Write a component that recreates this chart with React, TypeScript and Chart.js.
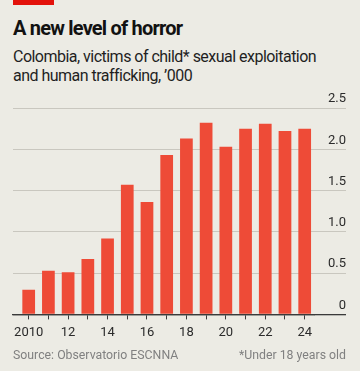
import React, { useEffect, useRef } from "react";
import { Chart, registerables } from "chart.js";

Chart.register(...registerables);

const years = [2010, 2011, 2012, 2013, 2014, 2015, 2016, 2017, 2018, 2019, 2020, 2021, 2022, 2023, 2024];
const victims = [0.3, 0.53, 0.51, 0.67, 0.92, 1.57, 1.36, 1.93, 2.13, 2.32, 2.03, 2.25, 2.31, 2.22, 2.25];
const xTickYears = [2010, 2012, 2014, 2016, 2018, 2020, 2022, 2024];
const xTickLabels = ["2010", "12", "14", "16", "18", "20", "22", "24"];
const yTickLabels = ["0", "0.5", "1.0", "1.5", "2.0", "2.5"];

const BG = "#ecebe4";
const BAR = "#ee4b37";
const GRID = "#c9c7bf";
const AXIS = "#3a3a3a";
const FONT = "Roboto, 'Noto Sans', sans-serif";

export default function App() {
  const ref = useRef<HTMLCanvasElement | null>(null);

  useEffect(() => {
    document.body.style.margin = "0";
    const canvas = ref.current;
    if (!canvas) return;
    const chart = new Chart(canvas, {
      type: "bar",
      data: {
        datasets: [
          {
            data: years.map((y, i) => ({ x: y, y: victims[i] })),
            backgroundColor: BAR,
            borderWidth: 0,
            categoryPercentage: 1,
            barPercentage: 0.645,
          },
        ],
      },
      options: {
        animation: false,
        responsive: false,
        maintainAspectRatio: false,
        layout: { padding: { left: 13, right: 14, top: 18, bottom: 9 } },
        plugins: { legend: { display: false }, tooltip: { enabled: false }, title: { display: false } },
        scales: {
          x: {
            type: "linear",
            offset: false,
            min: 2009.204,
            max: 2024.472,
            afterFit: (scale: any) => {
              scale.paddingLeft = 0;
              scale.paddingRight = 0;
              scale.height = 26.6;
            },
            grid: {
              display: true,
              offset: false,
              drawOnChartArea: false,
              drawTicks: true,
              tickLength: 5,
              tickColor: AXIS,
              tickWidth: 1,
            },
            border: { display: true, color: AXIS, width: 1.3 },
            ticks: {
              stepSize: 1,
              includeBounds: false,
              autoSkip: false,
              maxRotation: 0,
              padding: 6,
              color: "#2b2b2b",
              font: { family: FONT, size: 13 },
              callback: (v: any) => {
                const idx = xTickYears.indexOf(Number(v));
                return idx >= 0 ? xTickLabels[idx] : "";
              },
            },
          },
          y: {
            position: "right",
            min: 0,
            max: 2.5,
            afterFit: (scale: any) => {
              scale.width = 32;
              scale.paddingTop = 0;
              scale.paddingBottom = 0;
            },
            grid: {
              display: true,
              drawOnChartArea: true,
              drawTicks: true,
              tickLength: 32,
              color: (ctx: any) => (ctx.tick && ctx.tick.value === 0 ? AXIS : GRID),
              tickColor: (ctx: any) => (ctx.tick && ctx.tick.value === 0 ? AXIS : GRID),
              lineWidth: (ctx: any) => (ctx.tick && ctx.tick.value === 0 ? 1.3 : 1),
            },
            border: { display: false },
            ticks: {
              stepSize: 0.5,
              crossAlign: "far",
              labelOffset: -9,
              padding: 0,
              color: "#2b2b2b",
              font: { family: FONT, size: 13 },
              callback: (v: any) => yTickLabels[Math.round(Number(v) / 0.5)],
            },
          },
        },
      },
    });
    return () => chart.destroy();
  }, []);

  return (
    <div style={{ position: "relative", width: 360, height: 371, background: BG, overflow: "hidden" }}>
      <div style={{ position: "absolute", left: 13, top: 0, width: 41, height: 5, background: "#e3120b" }} />
      <div
        style={{
          position: "absolute",
          left: 13,
          top: 16,
          fontFamily: FONT,
          fontWeight: 700,
          fontSize: 20,
          lineHeight: "24px",
          color: "#121212",
          letterSpacing: -0.8,
          whiteSpace: "nowrap",
        }}
      >
        A new level of horror
      </div>
      <div
        style={{
          position: "absolute",
          left: 13,
          top: 48,
          width: 340,
          fontFamily: FONT,
          fontSize: 16,
          lineHeight: "18.7px",
          color: "#1f1f1f",
          letterSpacing: -0.52,
        }}
      >
        Colombia, victims of child* sexual exploitation
        <br />
        and human trafficking, ’000
      </div>
      <canvas
        ref={ref}
        width={360}
        height={260}
        style={{ position: "absolute", left: 0, top: 90, width: 360, height: 260 }}
      />
      <div
        style={{
          position: "absolute",
          left: 13,
          top: 348,
          fontFamily: FONT,
          fontSize: 12.3,
          lineHeight: "14px",
          color: "#808080",
          whiteSpace: "nowrap",
        }}
      >
        Source: Observatorio ESCNNA
      </div>
      <div
        style={{
          position: "absolute",
          right: 14,
          top: 348,
          fontFamily: FONT,
          fontSize: 12.3,
          lineHeight: "14px",
          color: "#808080",
          whiteSpace: "nowrap",
        }}
      >
        *Under 18 years old
      </div>
    </div>
  );
}
